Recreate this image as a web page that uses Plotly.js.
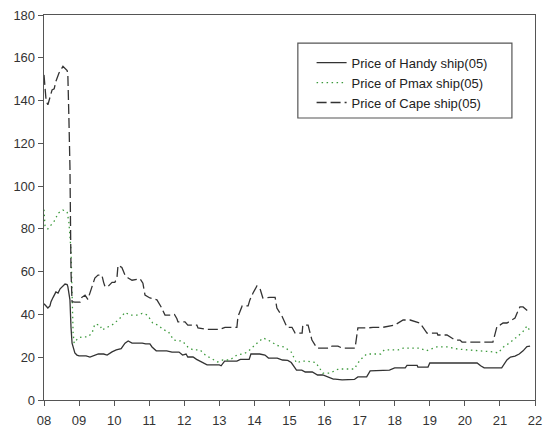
<!DOCTYPE html>
<html>
<head>
<meta charset="utf-8">
<script src="https://cdn.plot.ly/plotly-3.0.1.min.js"></script>
<style>html,body{margin:0;padding:0;background:#fff;}#chart{width:546px;height:430px;}</style>
</head>
<body>
<div id="chart"></div>
<script>
// Tick labels
var tickYears = [8,9,10,11,12,13,14,15,16,17,18,19,20,21,22];
var tickLabels = ["08","09","10","11","12","13","14","15","16","17","18","19","20","21","22"];

// Price of Handy ship(05)
var handyX = [8.0,8.08,8.11,8.17,8.2,8.26,8.31,8.34,8.4,8.46,8.6,8.66,8.68,8.74,8.77,8.8,8.88,8.94,9.0,9.2,
  9.31,9.45,9.55,9.7,9.8,9.94,10.06,10.2,10.31,10.4,10.51,10.6,10.8,10.9,11.02,11.08,11.2,11.35,11.5,11.65,
  11.85,11.95,12.05,12.1,12.25,12.35,12.45,12.65,13.0,13.05,13.15,13.5,13.6,13.85,13.9,14.15,14.3,14.4,14.65,14.8,
  14.95,15.05,15.2,15.35,15.45,15.65,15.8,15.95,16.25,16.3,16.5,16.85,16.95,17.2,17.3,17.85,18.0,18.3,18.35,18.64,
  18.66,18.95,19.0,19.9,20.0,20.1,20.35,20.45,20.55,21.05,21.2,21.3,21.43,21.55,21.66,21.77,21.86];
var handyY = [45,43.5,43,44,46,48,50,50.5,50,52,54.2,54,53,46.8,34,26.6,22,21,20.6,20.6,
  20.1,21,21.5,21.5,21,22.5,23.4,24,26.6,27.6,26.6,26.6,26.6,26.2,26.2,24.8,23,23,23,22.4,
  22.4,21,21.5,20.1,20.1,19,18.2,16.4,16.4,16,18.2,18.2,19,19,21.5,21.5,21,19.6,19.6,18.7,
  18.5,17.5,14,14,13.1,13.1,11.7,11.7,9.8,9.8,9.4,9.6,10.8,10.8,13.6,14,15,15,16.2,16.2,
  15.4,15.4,17.3,17.3,17.0,17.3,17.3,16,15,15,18.7,20.1,20.5,21.5,23,25,25.2];

// Price of Pmax ship(05)
var pmaxX = [8.0,8.03,8.11,8.2,8.31,8.4,8.54,8.66,8.71,8.77,8.8,8.83,8.86,8.97,9.08,9.25,9.37,9.45,9.6,9.65,
  9.8,9.94,10.05,10.2,10.31,10.45,10.55,10.65,10.8,10.95,11.1,11.25,11.4,11.55,11.7,11.95,12.1,12.25,12.45,12.6,
  12.75,12.95,13.1,13.3,13.5,13.65,13.8,13.95,14.1,14.25,14.45,14.65,14.85,15.05,15.2,15.35,15.5,15.75,15.95,16.15,
  16.4,16.85,16.95,17.1,17.2,17.6,17.7,18.1,18.25,18.7,18.9,19.2,19.5,19.8,20.2,20.5,20.8,20.95,21.1,21.3,
  21.5,21.65,21.77,21.86];
var pmaxY = [89,81,80,82,84,87.3,88.8,88,83,70,47,31.3,26.6,29,29.5,29.5,31.3,35.5,35,32.7,
  34,35,36.5,38.8,41,39.7,39.7,39.7,40.5,39.7,36,35,33,31.8,28,27.5,24.8,23.4,23.4,21,
  19.6,17.8,18.7,18.7,21,21.5,22.4,24.8,27,29,27.5,25.5,24.8,22.4,17.3,18.2,18.2,17.5,12.6,12.6,
  14.5,14.5,17.3,20.1,21.5,21.5,23.4,23.4,24.3,24.3,23,24.8,24.8,23.8,23.4,23,22.5,22,24.8,27,
  29.5,31.8,34.6,32.3];

// Price of Cape ship(05)
var capeX = [8.0,8.06,8.11,8.17,8.23,8.29,8.34,8.43,8.54,8.66,8.68,8.71,8.74,8.77,8.8,8.88,9.03,9.08,9.17,9.25,
  9.31,9.37,9.45,9.54,9.65,9.7,9.74,9.82,9.94,10.02,10.08,10.11,10.22,10.31,10.4,10.51,10.74,10.82,10.88,11.02,
  11.22,11.34,11.45,11.65,11.72,11.79,11.82,12.02,12.1,12.36,12.39,12.65,13.02,13.16,13.5,13.53,13.65,13.82,13.87,13.96,
  14.07,14.16,14.24,14.44,14.59,14.64,14.79,14.93,15.07,15.16,15.36,15.38,15.53,15.64,15.78,16.16,16.21,16.38,16.5,16.87,
  16.95,17.24,17.38,17.67,18.0,18.24,18.44,18.72,18.92,19.21,19.23,19.49,19.58,19.72,19.86,19.92,20.8,20.92,21.0,21.09,
  21.2,21.43,21.49,21.57,21.66,21.77,21.86];
var capeY = [152,140,138,142,145,145.5,149,153,156,154,152,132,109,60,46,45.8,45.8,48,49,47,
  50,53,57,58.4,58.4,55,53,53,55,55,57,63,62,58.4,57,56,56.6,54.6,49,47.7,
  46.8,43.5,39.7,39.7,40,38,36.5,36.5,35,35,33.7,33,33,34,34,39,44,44,46.8,50,
  53.3,52,47.7,48,48,43,39,34,34,31.3,31.3,35,35,28,24.3,24.3,25.2,25.2,24.3,24.3,
  33.7,33.7,34,34,35,37.4,37.4,36,31.3,31.3,30.4,30.4,29.5,28,28,27.1,27.1,34.6,35,36,
  36,38.3,40.7,43.5,43.5,42,40.7];

var traces = [
  {x: handyX, y: handyY, type: 'scatter', mode: 'lines', name: 'Price of Handy ship(05)',
   line: {color: '#333333', width: 1.3}},
  {x: pmaxX, y: pmaxY, type: 'scatter', mode: 'lines', name: 'Price of Pmax ship(05)',
   line: {color: '#3c9a3c', width: 1.3, dash: '1.5px,3.5px'}},
  {x: capeX, y: capeY, type: 'scatter', mode: 'lines', name: 'Price of Cape ship(05)',
   line: {color: '#333333', width: 1.3, dash: '10px,4px'}}
];

var axisFont = {family: 'Liberation Sans, Arial, sans-serif', size: 13, color: '#333'};
var layout = {
  width: 546, height: 430,
  margin: {l: 44, r: 11, t: 15, b: 30},
  paper_bgcolor: '#fff', plot_bgcolor: '#fff',
  showlegend: true,
  font: axisFont,
  xaxis: {range: [8, 22], tickvals: tickYears, ticktext: tickLabels, showgrid: false, zeroline: false,
    showline: true, mirror: true, linecolor: '#555', linewidth: 1.3, ticks: 'outside', ticklen: 5,
    tickcolor: '#555', tickfont: axisFont, ticklabelstandoff: 3},
  yaxis: {range: [0, 180], dtick: 20, showgrid: false, zeroline: false,
    showline: true, mirror: true, linecolor: '#555', linewidth: 1.3, ticks: 'outside', ticklen: 5,
    tickcolor: '#555', tickfont: axisFont},
  legend: {x: 0.545, y: 0.915, xanchor: 'left', yanchor: 'top', bgcolor: 'rgba(0,0,0,0)', borderwidth: 0,
    font: {family: 'Liberation Sans, Arial, sans-serif', size: 13, color: '#222'}, tracegroupgap: 0},
  shapes: [{type: 'rect', xref: 'paper', yref: 'paper', x0: 0.517, x1: 0.953, y0: 0.7325, y1: 0.927,
    line: {color: '#555', width: 1.2}, fillcolor: 'rgba(0,0,0,0)'}]
};

Plotly.newPlot('chart', traces, layout, {displayModeBar: false, staticPlot: true});
</script>
</body>
</html>
